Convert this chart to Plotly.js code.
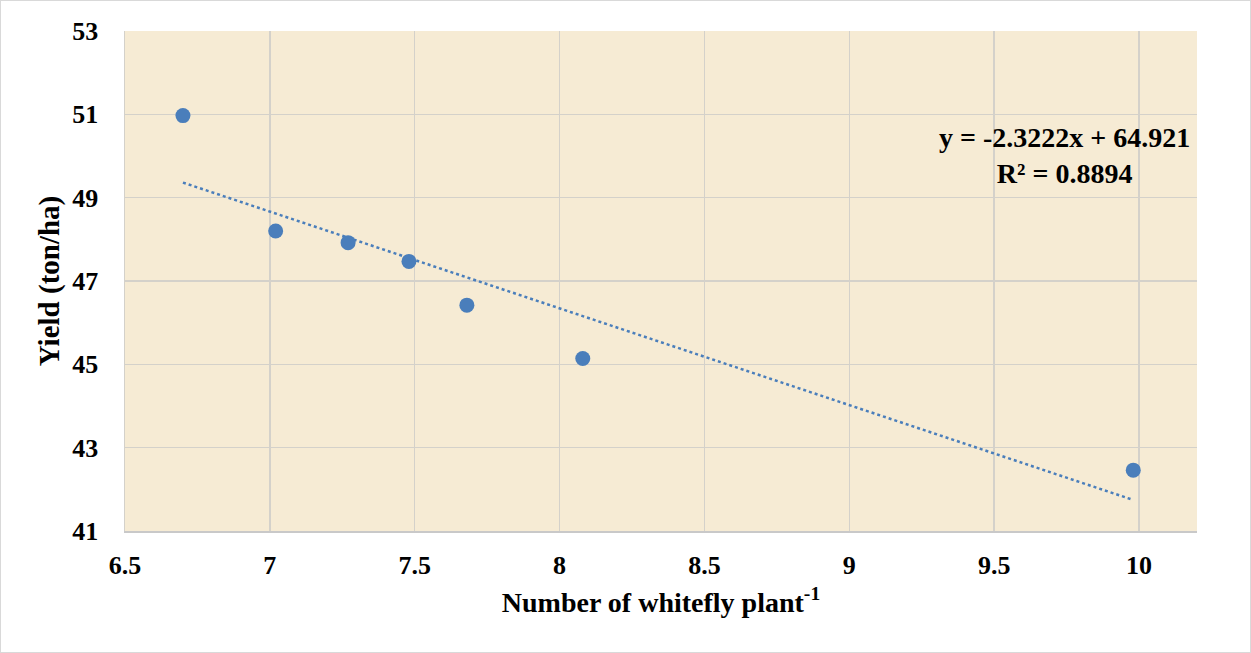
<!DOCTYPE html>
<html>
<head>
<meta charset="utf-8">
<script src="https://cdn.plot.ly/plotly-3.0.1.min.js"></script>
<style>
html,body{margin:0;padding:0;background:#fff;}
#wrap{position:relative;width:1251px;height:653px;}
#chart{width:1251px;height:653px;}
#frame{position:absolute;left:0;top:0;width:1249px;height:651px;border:1px solid #d9d9d9;pointer-events:none;}
</style>
</head>
<body>
<div id="wrap"><div id="chart"></div><div id="frame"></div></div>
<script>
const whitefly = [6.70, 7.02, 7.27, 7.48, 7.68, 8.08, 9.98];
const yieldTon = [50.97, 48.20, 47.92, 47.47, 46.42, 45.14, 42.46];
const trendSlope = -2.3222;
const trendIntercept = 64.921;
const equationText = "y = -2.3222x + 64.921<br>R² = 0.8894";
const xTickVals = [6.5, 7, 7.5, 8, 8.5, 9, 9.5, 10];
const yTickVals = [41, 43, 45, 47, 49, 51, 53];

const xMin = Math.min(...whitefly), xMax = Math.max(...whitefly);
const trendX = [xMin, xMax];
const trendY = trendX.map(x => trendSlope * x + trendIntercept);

const fam = "Liberation Serif, Times New Roman, serif";
const f = (size) => ({family: fam, color: "#000", size: size, weight: "bold"});

const data = [
  {x: trendX, y: trendY, type: "scatter", mode: "lines",
   line: {color: "#4a7ebb", width: 2.5, dash: "dot"}, hoverinfo: "skip", showlegend: false},
  {x: whitefly, y: yieldTon, type: "scatter", mode: "markers",
   marker: {color: "#4a7ebb", size: 15}, showlegend: false}
];

const layout = {
  width: 1251, height: 653,
  margin: {l: 125, r: 54, t: 31, b: 122},
  paper_bgcolor: "#ffffff",
  plot_bgcolor: "#f6ebd4",
  font: f(22),
  xaxis: {
    range: [6.5, 10.2], tickvals: xTickVals, ticktext: xTickVals.map(String),
    showgrid: true, gridcolor: "#d4d1ca", gridwidth: 1.5, zeroline: false,
    showline: true, linecolor: "#c9c9c9", linewidth: 2,
    ticks: "", ticklabelstandoff: 10,
    tickfont: f(26),
    title: {text: "Number of whitefly plant<sup>-1</sup>", standoff: 13, font: f(28)}
  },
  yaxis: {
    range: [41, 53], tickvals: yTickVals, ticktext: yTickVals.map(String),
    showgrid: true, gridcolor: "#d4d1ca", gridwidth: 1.5, zeroline: false,
    showline: true, linecolor: "#d4d1ca", linewidth: 1.5,
    ticks: "", ticklabelstandoff: 20,
    tickfont: f(26),
    title: {text: "Yield (ton/ha)", standoff: 4, font: f(29)}
  },
  annotations: [{
    xref: "paper", yref: "paper", x: 0.876, y: 0.751, xanchor: "center", yanchor: "middle",
    text: equationText, showarrow: false, align: "center",
    font: f(28)
  }]
};

Plotly.newPlot("chart", data, layout, {displayModeBar: false, staticPlot: true});
</script>
</body>
</html>
